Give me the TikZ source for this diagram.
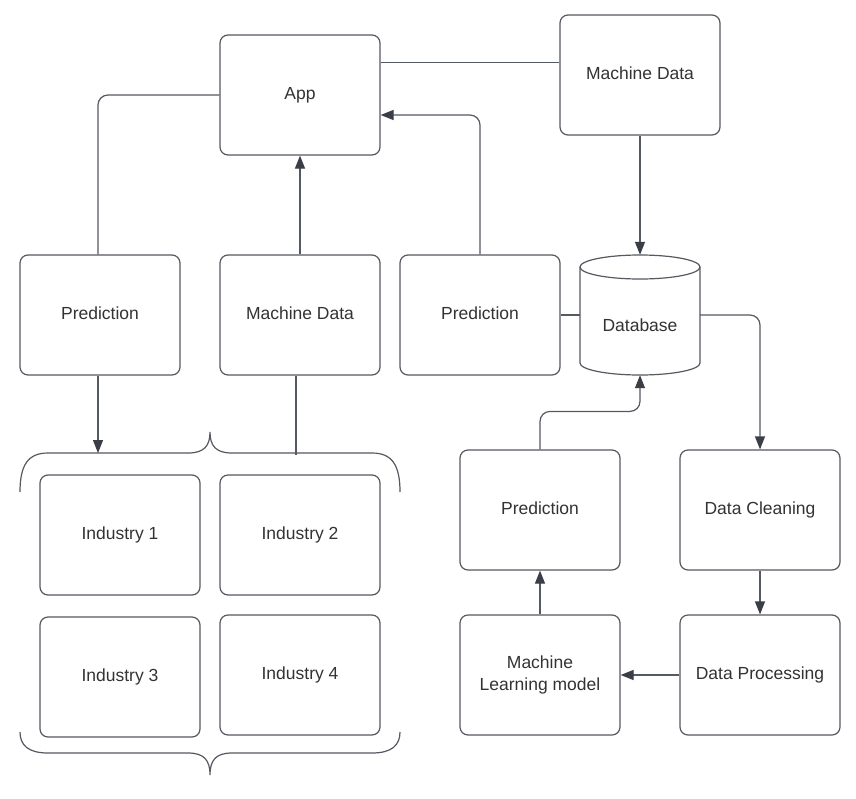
\documentclass[tikz,border=0pt]{standalone}
\usepackage{fontspec}
\setmainfont{Liberation Sans}
\usetikzlibrary{arrows.meta}
\definecolor{linec}{RGB}{85,89,96}
\definecolor{arrc}{RGB}{58,62,70}
\definecolor{textc}{RGB}{51,51,51}
\begin{document}
\begin{tikzpicture}[x=1pt,y=-1pt,
 box/.style={draw=linec, line width=1.2pt, rounded corners=8pt, minimum width=160pt, minimum height=120pt, align=center, text=textc, font=\fontsize{17.5}{22}\selectfont, inner sep=0pt, text height=12.5pt, text depth=4.5pt},
 lab/.style={text=textc, font=\fontsize{17.5}{22}\selectfont, inner sep=0pt, text height=12.5pt, text depth=4.5pt},
 conn/.style={draw=linec, line width=1.2pt, rounded corners=10pt},
 arr/.style={conn, -{Triangle[length=13pt,width=10pt,color=arrc]}},
 shp/.style={draw=linec, line width=1.2pt}
]
\fill[white] (0,0) rectangle (856,798);
\useasboundingbox (0,0) rectangle (856,798);

% top row
\node[box] (app) at (300,95) {App};
\node[box] (md1) at (640,75) {Machine Data};

% middle row
\node[box] (pred1) at (100,315) {Prediction};
\node[box] (md2) at (300,315) {Machine Data};
\node[box] (pred2) at (480,315) {Prediction};

% database cylinder
\node[minimum width=120pt, minimum height=120pt, inner sep=0pt] (db) at (640,315) {};
\draw[shp] (640,267) ellipse [x radius=60pt, y radius=12pt];
\draw[shp] (580,267) -- (580,363) arc (180:360:60pt and 12pt) -- (700,267);
\node[lab] (dblab) at (640,327) {Database};

% right lower
\node[box] (pred3) at (540,510) {Prediction};
\node[box] (dc) at (760,510) {Data Cleaning};
\node[box, text height=, text depth=] (ml) at (540,675) {Machine\\Learning model};
\node[box] (dp) at (760,675) {Data Processing};

% industries
\node[box] (ind1) at (120,535) {Industry 1};
\node[box] (ind2) at (300,535) {Industry 2};
\node[box] (ind3) at (120,677) {Industry 3};
\node[box] (ind4) at (300,675) {Industry 4};

% braces
\draw[shp] (20,492) .. controls (20,465) and (28,453) .. (48,453) -- (188,453)
  .. controls (204,453) and (210,446) .. (210,432)
  .. controls (210,446) and (216,453) .. (232,453) -- (372,453)
  .. controls (392,453) and (400,465) .. (400,492);
\draw[shp] (20,732) .. controls (20,745) and (28,753) .. (48,753) -- (188,753)
  .. controls (204,753) and (210,760) .. (210,775)
  .. controls (210,760) and (216,753) .. (232,753) -- (372,753)
  .. controls (392,753) and (400,745) .. (400,732);
\coordinate (bt1) at (98,453);
\coordinate (bt2) at (296,455);

% connectors
\draw[conn] ([yshift=-28pt]app.north east) -- ([yshift=-28pt]app.north east -| md1.west);
\draw[conn] (app.west) -| ([xshift=-2pt]pred1.north);
\draw[arr] (md2.north) -- (app.south);
\draw[arr] (pred2.north) |- ([yshift=-20pt]app.east);
\draw[arr] (md1.south) -- (db.north);
\draw[conn] (pred2.east) -- (db.west);
\draw[arr] (db.east) -| (dc.north);
\draw[arr] (dc.south) -- (dp.north);
\draw[arr] (dp.west) -- (ml.east);
\draw[arr] (ml.north) -- (pred3.south);
\draw[arr] (pred3.north) -- ++(0,-38) -| (db.south);
\draw[arr] ([xshift=-2pt]pred1.south) -- (bt1);
\draw[conn] ([xshift=-4pt]md2.south) -- (bt2);
\end{tikzpicture}
\end{document}
